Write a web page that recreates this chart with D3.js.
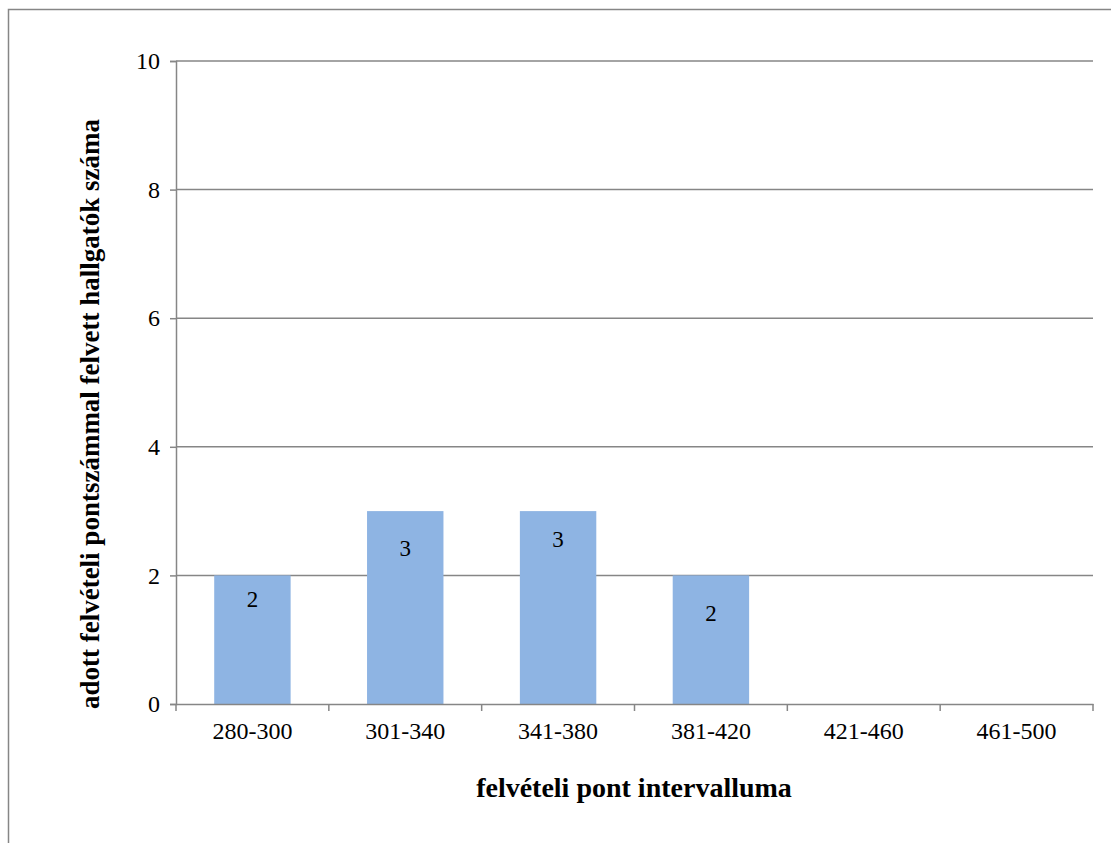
<!DOCTYPE html>
<html>
<head>
<meta charset="utf-8">
<script src="https://cdn.jsdelivr.net/npm/d3@7"></script>
<style>
  html, body { margin: 0; padding: 0; background: #fff; }
  svg { display: block; }
</style>
</head>
<body>
<script>
// ---- data ----
const categories = ["280-300", "301-340", "341-380", "381-420", "421-460", "461-500"];
const values = [2, 3, 3, 2, 0, 0];
const yTicks = [0, 2, 4, 6, 8, 10];
const xTitle = "felvételi pont intervalluma";
const yTitle = "adott felvételi pontszámmal felvett hallgatók száma";
// label placement tweaks (px below bar top, to label centre)
const labelOffsets = [24, 37, 28, 38, 0, 0];

const W = 1111, H = 843;
const plot = { left: 176, right: 1093, top: 61, bottom: 704 };
const gridColor = "#868686";
const barColor = "#8EB4E3";
const font = "Liberation Serif";

const svg = d3.select("body").append("svg").attr("width", W).attr("height", H);

// outer chart border (extends past the window at right and bottom)
svg.append("rect")
  .attr("x", 8.5).attr("y", 9.5)
  .attr("width", W + 20).attr("height", H + 20)
  .attr("fill", "none").attr("stroke", gridColor).attr("stroke-width", 1.5);

const x = d3.scaleBand().domain(categories)
  .range([plot.left, plot.right]).paddingInner(0.5).paddingOuter(0.25);
const y = d3.scaleLinear().domain([0, 10]).range([plot.bottom, plot.top]);

// gridlines
svg.append("g").selectAll("line").data(yTicks.filter(d => d > 0)).join("line")
  .attr("x1", plot.left).attr("x2", plot.right)
  .attr("y1", d => y(d)).attr("y2", d => y(d))
  .attr("stroke", gridColor).attr("stroke-width", 1.5);

// bars
svg.append("g").selectAll("rect").data(values).join("rect")
  .attr("x", (d, i) => x(categories[i]))
  .attr("width", x.bandwidth())
  .attr("y", d => y(d))
  .attr("height", d => y(0) - y(d))
  .attr("fill", barColor);

// data labels
svg.append("g").selectAll("text")
  .data(values.map((v, i) => ({ v, i })).filter(d => d.v > 0)).join("text")
  .attr("x", d => x(categories[d.i]) + x.bandwidth() / 2)
  .attr("y", d => y(d.v) + labelOffsets[d.i])
  .attr("dy", "0.35em")
  .attr("text-anchor", "middle")
  .style("font-family", font).style("font-size", "23px").attr("fill", "#000")
  .text(d => d.v);

// y axis
const yAxis = d3.axisLeft(y).tickValues(yTicks).tickSize(6).tickPadding(10);
const gy = svg.append("g").attr("transform", `translate(${plot.left},0)`).call(yAxis);
gy.attr("font-family", font).attr("font-size", 24);
gy.select(".domain").attr("stroke", gridColor).attr("stroke-width", 1.5);
gy.selectAll(".tick line").attr("stroke", gridColor).attr("stroke-width", 1.5);
gy.selectAll(".tick text").attr("fill", "#000");

// x axis with ticks at category boundaries
const xAxis = d3.axisBottom(x).tickSize(0).tickPadding(18);
const gx = svg.append("g").attr("transform", `translate(0,${plot.bottom})`).call(xAxis);
gx.attr("font-family", font).attr("font-size", 24);
gx.select(".domain").attr("stroke", gridColor).attr("stroke-width", 1.5);
gx.selectAll(".tick text").attr("fill", "#000");
const step = x.step();
gx.append("g").selectAll("line").data(d3.range(categories.length + 1)).join("line")
  .attr("x1", i => plot.left + i * step).attr("x2", i => plot.left + i * step)
  .attr("y1", 0).attr("y2", 7)
  .attr("stroke", gridColor).attr("stroke-width", 1.5);

// axis titles
svg.append("text")
  .attr("x", 634).attr("y", 797)
  .attr("text-anchor", "middle")
  .style("font-family", font).style("font-size", "28px").style("font-weight", "bold")
  .text(xTitle);

svg.append("text")
  .attr("transform", `translate(99,414) rotate(-90)`)
  .attr("text-anchor", "middle")
  .style("font-family", font).style("font-size", "27px").style("font-weight", "bold")
  .text(yTitle);
</script>
</body>
</html>
